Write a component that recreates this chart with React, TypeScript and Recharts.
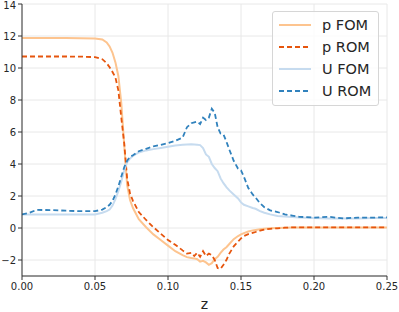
import React from 'react';
import { LineChart, Line, XAxis, YAxis, CartesianGrid, Legend } from 'recharts';

const z = [0, 0.005, 0.01, 0.02, 0.03, 0.04, 0.05, 0.055, 0.058, 0.06, 0.062, 0.064, 0.066, 0.068, 0.07, 0.072, 0.074, 0.076, 0.08, 0.085, 0.09, 0.095, 0.1, 0.105, 0.11, 0.113, 0.116, 0.118, 0.12, 0.122, 0.124, 0.126, 0.128, 0.13, 0.132, 0.134, 0.136, 0.138, 0.14, 0.142, 0.145, 0.148, 0.15, 0.152, 0.155, 0.158, 0.16, 0.163, 0.166, 0.17, 0.175, 0.18, 0.185, 0.19, 0.2, 0.21, 0.22, 0.23, 0.24, 0.25];

const pFom = [11.87, 11.87, 11.87, 11.87, 11.87, 11.86, 11.85, 11.78, 11.6, 11.35, 10.95, 10.35, 9.5, 7.8, 5.2, 2.7, 1.75, 1.25, 0.55, 0.05, -0.4, -0.75, -1.1, -1.45, -1.7, -1.82, -1.88, -1.9, -1.95, -2.1, -2.05, -2.15, -2.3, -2.2, -1.95, -1.8, -1.55, -1.35, -1.2, -1.0, -0.7, -0.5, -0.4, -0.32, -0.22, -0.15, -0.12, -0.08, -0.05, -0.02, 0.0, 0.02, 0.03, 0.03, 0.03, 0.03, 0.03, 0.03, 0.03, 0.03];

const pRom = [10.72, 10.72, 10.72, 10.72, 10.72, 10.71, 10.68, 10.55, 10.3, 10.05, 9.75, 9.4, 8.6, 6.9, 5.3, 3.1, 2.15, 1.7, 1.0, 0.5, 0.05, -0.35, -0.75, -1.05, -1.4, -1.6, -1.55, -1.75, -1.55, -1.8, -1.45, -1.75, -1.6, -1.7, -2.0, -2.5, -2.55, -2.3, -2.0, -1.6, -1.15, -0.85, -0.65, -0.5, -0.38, -0.3, -0.25, -0.17, -0.1, -0.05, -0.02, 0.02, 0.04, 0.04, 0.04, 0.04, 0.04, 0.04, 0.04, 0.04];

const uFom = [0.85, 0.85, 0.85, 0.85, 0.84, 0.84, 0.85, 0.95, 1.05, 1.15, 1.4, 1.8, 2.3, 2.9, 3.6, 4.1, 4.35, 4.5, 4.72, 4.85, 4.93, 5.0, 5.08, 5.15, 5.2, 5.22, 5.23, 5.22, 5.2, 5.18, 5.0, 4.6, 4.45, 4.0, 3.75, 3.55, 3.1, 2.8, 2.55, 2.35, 2.1, 1.85, 1.6, 1.45, 1.35, 1.25, 1.2, 1.05, 0.95, 0.85, 0.75, 0.72, 0.68, 0.65, 0.62, 0.6, 0.6, 0.6, 0.62, 0.62];

const uRom = [0.85, 0.95, 1.13, 1.12, 1.08, 1.05, 1.05, 1.15, 1.3, 1.45, 1.7, 2.1, 2.6, 3.2, 3.8, 4.2, 4.45, 4.55, 4.8, 4.95, 5.1, 5.2, 5.3, 5.45, 5.65, 6.3, 6.55, 6.6, 6.65, 6.5, 6.9, 6.75, 6.9, 7.45, 7.2, 6.3, 5.9, 5.85, 5.4, 4.9, 4.2, 3.7, 3.6, 3.2, 2.5, 2.1, 1.9, 1.55, 1.3, 1.1, 1.0, 0.85, 0.78, 0.7, 0.65, 0.7, 0.6, 0.65, 0.65, 0.67];

const xTicks = [0, 0.05, 0.1, 0.15, 0.2, 0.25];
const yTicks = [-2, 0, 2, 4, 6, 8, 10, 12, 14];

const seriesNames = ['p FOM', 'p ROM', 'U FOM', 'U ROM'];
const seriesColors = ['#fdc48f', '#e6550d', '#c6dbef', '#3182bd'];
const seriesDashed = [false, true, false, true];
const seriesKeys = ['pFom', 'pRom', 'uFom', 'uRom'];

const data = z.map((zz, i) => ({
  z: zz,
  pFom: pFom[i],
  pRom: pRom[i],
  uFom: uFom[i],
  uRom: uRom[i],
}));

const font = 'DejaVu Sans, sans-serif';

const LegendBox = () => (
  <div
    style={{
      width: 107,
      height: 95,
      boxSizing: 'border-box',
      border: '1px solid #d6d6d6',
      borderRadius: 3,
      background: 'rgba(255,255,255,0.8)',
      fontFamily: font,
      fontSize: 14.5,
      color: '#262626',
      position: 'relative',
    }}
  >
    {seriesNames.map((n, i) => (
      <div key={n} style={{ position: 'absolute', left: 0, top: 13 + i * 22 - 10, height: 20, width: 107 }}>
        <svg width={40} height={20} style={{ position: 'absolute', left: 4, top: 0 }}>
          <line
            x1={2}
            x2={34}
            y1={10}
            y2={10}
            stroke={seriesColors[i]}
            strokeWidth={2}
            strokeDasharray={seriesDashed[i] ? '5 3' : undefined}
          />
        </svg>
        <span style={{ position: 'absolute', left: 49, top: 1, lineHeight: '18px', whiteSpace: 'nowrap' }}>{n}</span>
      </div>
    ))}
  </div>
);

export default function App() {
  return (
    <div style={{ position: 'absolute', left: 0, top: 0, width: 399, height: 312, background: '#fff' }}>
      <LineChart width={399} height={312} data={data} margin={{ top: 4, right: 12, left: 0, bottom: 0 }}>
        <CartesianGrid stroke="#e8e8e8" strokeWidth={1} />
        <XAxis
          dataKey="z"
          type="number"
          domain={[0, 0.25]}
          ticks={xTicks}
          tickFormatter={(v: number) => v.toFixed(2)}
          height={36}
          tickSize={4}
          tickMargin={3}
          stroke="#333"
          tick={{ fill: '#262626', fontSize: 10, fontFamily: font }}
          label={{ value: 'z', position: 'insideBottom', offset: 3, fill: '#262626', fontSize: 14, fontFamily: font }}
          allowDataOverflow
        />
        <XAxis xAxisId="top" orientation="top" type="number" domain={[0, 0.25]} height={0} tick={false} tickLine={false} stroke="#333" />
        <YAxis
          type="number"
          domain={[-3, 14]}
          ticks={yTicks}
          width={22}
          tickSize={4}
          tickMargin={2}
          stroke="#333"
          tick={{ fill: '#262626', fontSize: 10, fontFamily: font }}
          tickFormatter={(v: number) => (v < 0 ? '\u2212' + Math.abs(v) : String(v))}
          allowDataOverflow
        />
        <YAxis yAxisId="right" orientation="right" type="number" domain={[-3, 14]} width={0} tick={false} tickLine={false} stroke="#333" />
        {seriesKeys.map((k, i) => (
          <Line
            key={k}
            dataKey={k}
            name={seriesNames[i]}
            type="linear"
            stroke={seriesColors[i]}
            strokeWidth={seriesDashed[i] ? 1.8 : 2}
            strokeDasharray={seriesDashed[i] ? '5 3' : undefined}
            dot={false}
            activeDot={false}
            isAnimationActive={false}
          />
        ))}
        <Legend
          layout="vertical"
          align="center"
          verticalAlign="middle"
          content={() => <LegendBox />}
          wrapperStyle={{ position: 'absolute', left: 272, top: 11, width: 107, height: 95 }}
        />
      </LineChart>
    </div>
  );
}
